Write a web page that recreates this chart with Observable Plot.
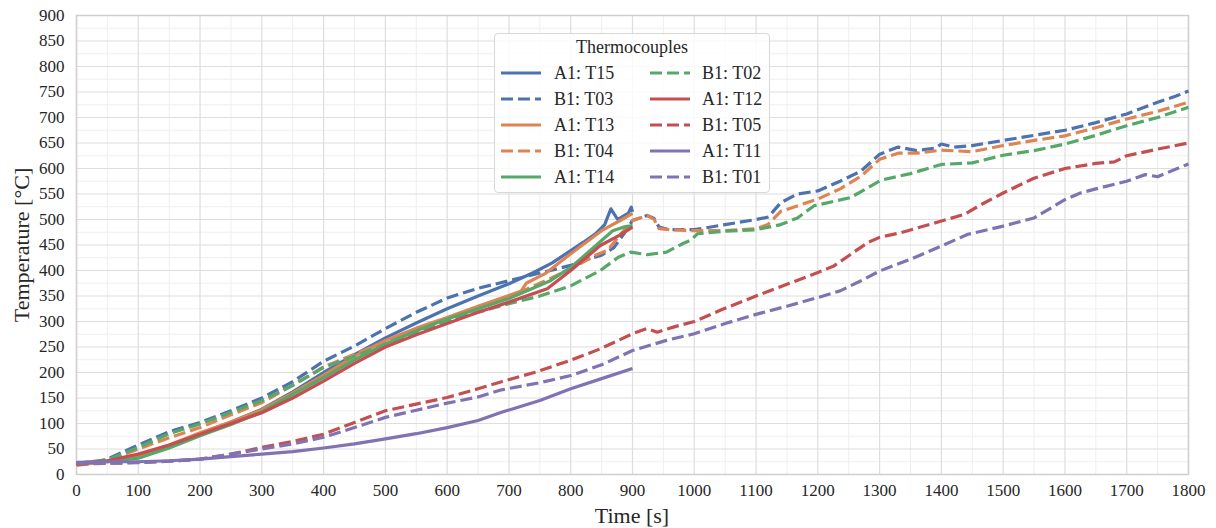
<!DOCTYPE html>
<html><head><meta charset="utf-8">
<script src="https://cdn.jsdelivr.net/npm/d3@7"></script>
<script src="https://cdn.jsdelivr.net/npm/@observablehq/plot@0.6"></script>
<style>
body{margin:0;background:#fff;font-family:"Liberation Serif","DejaVu Serif",serif;}
#wrap{position:relative;width:1216px;height:528px;overflow:hidden;}
#wrap svg text{font-family:"Liberation Serif","DejaVu Serif",serif !important;fill:#262626;}
#legend{position:absolute;left:494px;top:33px;width:276px;height:160px;border:1px solid #d8d8d8;border-radius:4px;background:rgba(255,255,255,0.82);box-sizing:border-box;font-size:18px;color:#262626;font-family:"Liberation Serif","DejaVu Serif",serif;}
#legend .ttl{position:absolute;left:0;right:0;top:3px;text-align:center;}
#legend .it{position:absolute;height:22px;line-height:22px;white-space:nowrap;}
#legend svg{position:absolute;left:0;top:0;}
.axlab{position:absolute;color:#262626;font-size:22px;white-space:nowrap;font-family:"Liberation Serif","DejaVu Serif",serif;}
</style></head><body><div id="wrap"></div>
<script>
// ---- data: [time s, temperature °C] ----
const A1_T15 = [[0,22],[50,27],[100,38],[150,55],[200,80],[250,103],[300,128],[350,162],[400,200],[450,235],[500,268],[550,297],[600,325],[650,350],[700,374],[740,396],[770,415],[800,439],[820,455],[840,472],[855,490],[865,521],[876,500],[887,508],[893,512],[898,524],[900,515]];
const B1_T03 = [[0,22],[30,24],[50,30],[100,58],[150,84],[200,102],[250,125],[300,150],[350,182],[400,222],[450,252],[500,286],[550,318],[600,346],[650,365],[700,380],[750,395],[800,410],[830,423],[850,430],[870,445],[885,470],[900,498],[924,508],[935,502],[943,485],[960,480],[1000,480],[1050,490],[1100,500],[1120,505],[1140,533],[1167,550],[1200,556],[1236,575],[1270,595],[1300,628],[1330,642],[1360,635],[1390,640],[1400,648],[1420,642],[1450,645],[1500,655],[1550,665],[1600,675],[1650,690],[1700,707],[1750,730],[1780,742],[1800,752]];
const A1_T13 = [[0,18],[50,26],[100,37],[150,58],[200,82],[250,103],[300,127],[350,160],[400,195],[450,232],[500,263],[550,287],[600,308],[650,330],[700,351],[720,360],[728,375],[760,395],[800,433],[850,478],[880,498],[900,512]];
const B1_T04 = [[0,20],[50,27],[100,50],[150,72],[200,92],[250,117],[300,141],[350,175],[400,211],[450,236],[500,260],[550,282],[600,302],[650,325],[700,348],[750,375],[800,403],[840,430],[860,440],[880,470],[900,498],[924,508],[935,500],[943,482],[960,480],[1000,478],[1050,478],[1100,482],[1119,490],[1140,516],[1200,540],[1236,560],[1270,585],[1300,618],[1330,630],[1360,630],[1400,636],[1450,633],[1500,645],[1550,655],[1600,664],[1650,680],[1700,697],[1750,712],[1800,730]];
const A1_T14 = [[0,22],[50,25],[100,32],[150,52],[200,76],[250,98],[300,123],[350,157],[400,190],[450,225],[500,256],[550,282],[600,305],[650,325],[700,345],[767,380],[800,406],[838,446],[868,478],[885,485],[900,488]];
const B1_T02 = [[0,22],[50,29],[100,53],[150,80],[200,99],[250,122],[300,145],[350,175],[400,210],[450,232],[500,255],[550,280],[600,300],[650,318],[700,335],[750,350],[800,370],[848,400],[877,426],[897,436],[924,431],[955,436],[982,453],[995,460],[1005,472],[1050,477],[1100,480],[1140,490],[1167,503],[1194,527],[1253,543],[1302,577],[1350,590],[1400,608],[1450,611],[1500,626],[1550,635],[1600,648],[1650,665],[1700,684],[1750,700],[1800,720]];
const A1_T12 = [[0,22],[50,27],[100,40],[150,58],[200,79],[250,100],[300,121],[350,150],[400,183],[450,218],[500,250],[550,274],[600,296],[650,318],[700,338],[762,364],[800,400],[848,449],[880,470],[900,485]];
const B1_T05 = [[0,20],[50,22],[100,24],[150,26],[200,30],[250,40],[300,53],[350,65],[400,79],[450,102],[500,125],[550,138],[600,151],[650,168],[688,182],[741,200],[800,224],[847,246],[900,276],[923,286],[940,279],[966,289],[1000,300],[1042,322],[1100,350],[1150,373],[1200,396],[1226,409],[1250,429],[1281,455],[1300,465],[1334,474],[1400,497],[1437,510],[1464,529],[1500,552],[1550,581],[1600,600],[1650,610],[1680,613],[1700,625],[1750,638],[1800,650]];
const A1_T11 = [[0,24],[50,25],[100,25],[150,27],[200,30],[250,35],[300,40],[350,45],[400,52],[450,60],[500,70],[550,80],[600,92],[650,106],[688,122],[750,145],[800,168],[850,188],[900,208]];
const B1_T01 = [[0,22],[50,22],[100,23],[150,26],[200,30],[250,40],[300,50],[350,60],[400,73],[450,92],[500,112],[550,126],[600,140],[650,152],[688,166],[750,180],[800,194],[850,215],[900,243],[955,263],[1000,276],[1050,296],[1100,314],[1150,330],[1200,347],[1236,360],[1270,380],[1300,399],[1350,422],[1400,448],[1443,471],[1500,487],[1550,503],[1600,539],[1625,552],[1650,560],[1700,575],[1730,588],[1750,584],[1800,609]];

const seriesNames = ["A1: T15","B1: T03","A1: T13","B1: T04","A1: T14","B1: T02","A1: T12","B1: T05","A1: T11","B1: T01"];
const seriesData  = [A1_T15,B1_T03,A1_T13,B1_T04,A1_T14,B1_T02,A1_T12,B1_T05,A1_T11,B1_T01];
const seriesColors = ["#4c72b0","#4c72b0","#dd8452","#dd8452","#55a868","#55a868","#c44e52","#c44e52","#8172b3","#8172b3"];
const seriesDashed = [false,true,false,true,false,true,false,true,false,true];
const xTicks = d3.range(0, 1801, 100);
const yTicks = d3.range(0, 901, 50);
const xMinor = d3.range(50, 1800, 100);
const yMinor = d3.range(25, 900, 50);
const DASH = "12,5";
const SERIF = '"Liberation Serif","DejaVu Serif",serif';

const lines = seriesData.map((d, i) => Plot.line(d, {
  x: p => p[0], y: p => p[1], stroke: seriesColors[i], strokeWidth: 3.2,
  strokeDasharray: seriesDashed[i] ? DASH : null, strokeLinejoin: "round", strokeLinecap: "butt"
}));

const chart = Plot.plot({
  width: 1216, height: 528,
  marginLeft: 76, marginRight: 28, marginTop: 15, marginBottom: 54,
  style: {fontFamily: SERIF, fontSize: "17px", color: "#262626", background: "#fff"},
  x: {domain: [0, 1800]},
  y: {domain: [0, 900]},
  marks: [
    Plot.ruleX(xMinor, {stroke: "#efefef", strokeWidth: 1}),
    Plot.ruleY(yMinor, {stroke: "#efefef", strokeWidth: 1}),
    Plot.ruleX(xTicks, {stroke: "#dedede", strokeWidth: 1.2}),
    Plot.ruleY(yTicks, {stroke: "#dedede", strokeWidth: 1.2}),
    Plot.frame({stroke: "#cfcfcf", strokeWidth: 1.5}),
    Plot.axisX({ticks: xTicks, tickSize: 0, tickPadding: 9, label: null, fontSize: 17, fontFamily: SERIF, tickFormat: d3.format("d")}),
    Plot.axisY({ticks: yTicks, tickSize: 0, tickPadding: 12, label: null, fontSize: 17, fontFamily: SERIF, tickFormat: d3.format("d")}),
    ...lines
  ]
});

const wrap = document.getElementById("wrap");
wrap.appendChild(chart);

// axis titles
const xl = document.createElement("div");
xl.className = "axlab"; xl.textContent = "Time [s]";
xl.style.left = "632px"; xl.style.top = "516px"; xl.style.transform = "translate(-50%,-50%)";
wrap.appendChild(xl);
const yl = document.createElement("div");
yl.className = "axlab"; yl.textContent = "Temperature [°C]";
yl.style.left = "22px"; yl.style.top = "245px"; yl.style.transform = "translate(-50%,-50%) rotate(-90deg)";
wrap.appendChild(yl);

// legend
const lg = document.createElement("div");
lg.id = "legend";
let html = '<div class="ttl">Thermocouples</div>';
let sw = '<svg width="276" height="160">';
seriesNames.forEach((n, i) => {
  const col = Math.floor(i / 5), row = i % 5;
  const lx = col === 0 ? 6 : 155, tx = col === 0 ? 59 : 207;
  const cy = 39 + row * 26;
  sw += `<line x1="${lx}" x2="${lx+40}" y1="${cy}" y2="${cy}" stroke="${seriesColors[i]}" stroke-width="3.2" ${seriesDashed[i] ? 'stroke-dasharray="' + DASH + '"' : ''}/>`;
  html += `<div class="it" style="left:${tx}px;top:${cy-11}px">${n}</div>`;
});
sw += '</svg>';
lg.innerHTML = sw + html;
wrap.appendChild(lg);
</script>
</body></html>
